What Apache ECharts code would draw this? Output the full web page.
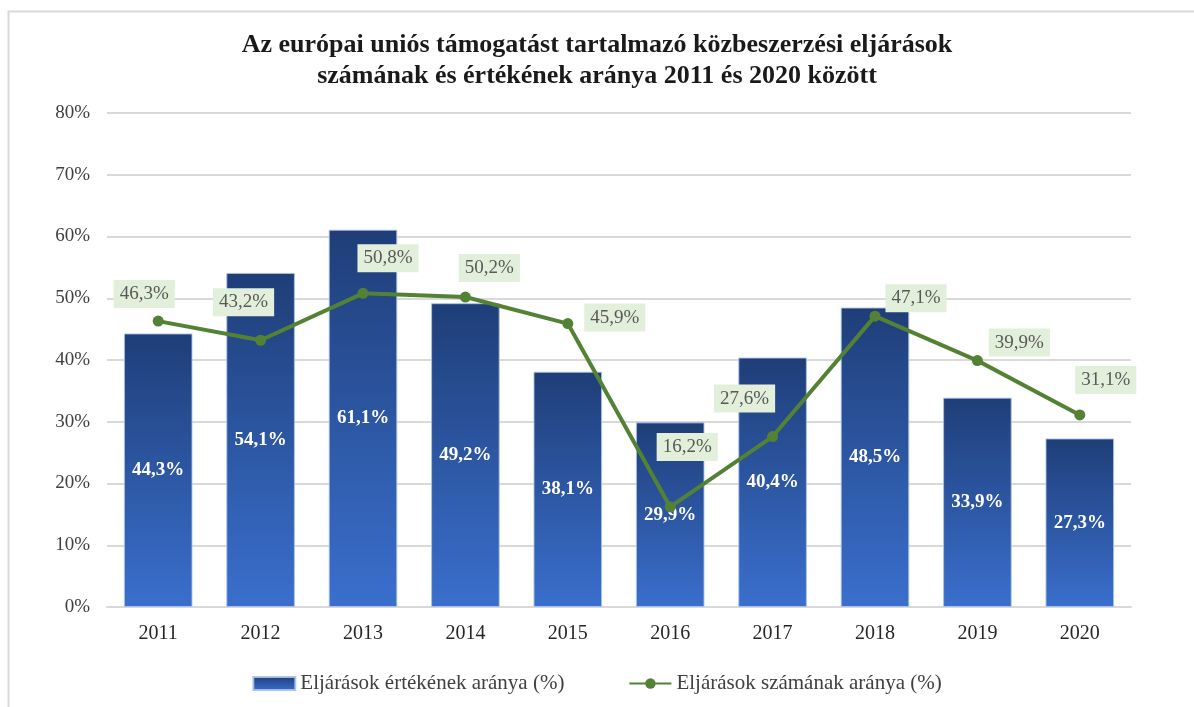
<!DOCTYPE html>
<html>
<head>
<meta charset="utf-8">
<script src="https://cdn.jsdelivr.net/npm/echarts@6/dist/echarts.min.js"></script>
<style>
  html, body { margin: 0; padding: 0; background: #fff; }
  #chart { width: 1194px; height: 707px; }
</style>
</head>
<body>
<div id="chart"></div>
<script>
const years = ["2011", "2012", "2013", "2014", "2015", "2016", "2017", "2018", "2019", "2020"];
const ertekArany = [44.3, 54.1, 61.1, 49.2, 38.1, 29.9, 40.4, 48.5, 33.9, 27.3];
const szamArany = [46.3, 43.2, 50.8, 50.2, 45.9, 16.2, 27.6, 47.1, 39.9, 31.1];
const yTicks = [0, 10, 20, 30, 40, 50, 60, 70, 80];

// label nudges for the line labels (Excel had them placed by hand)
const labelOffsets = [
  [-14, -27], [-17, -38], [25, -35], [24, -29], [47, -6],
  [17, -60], [-28, -38], [41, -18], [42, -18], [26, -35]
];

const serif = "'Liberation Serif', 'DejaVu Serif', serif";
const fmt = v => v.toFixed(1).replace(".", ",") + "%";

const chart = echarts.init(document.getElementById("chart"));

const option = {
  animation: false,
  textStyle: { fontFamily: serif },
  title: {
    text: "Az európai uniós támogatást tartalmazó közbeszerzési eljárások\nszámának és értékének aránya 2011 és 2020 között",
    left: "center",
    top: 25,
    textStyle: {
      fontFamily: serif,
      fontWeight: "bold",
      fontSize: 26,
      lineHeight: 31,
      color: "#1a1a1a",
    },
  },
  graphic: [
    {
      type: "rect",
      left: 6,
      top: 9,
      shape: { width: 1300, height: 800 },
      style: { fill: "none", stroke: "#d9d9d9", lineWidth: 2 },
      silent: true,
    },
  ],
  grid: { left: 107, right: 63, top: 113, bottom: 100 },
  legend: {
    bottom: 8,
    left: "center",
    itemWidth: 42,
    itemHeight: 13,
    itemGap: 64,
    textStyle: { fontFamily: serif, fontSize: 21, color: "#404040" },
    data: [
      { name: "Eljárások értékének aránya (%)", icon: "rect" },
      { name: "Eljárások számának aránya (%)" },
    ],
  },
  xAxis: {
    type: "category",
    data: years,
    axisLine: { lineStyle: { color: "#d9d9d9", width: 2 } },
    axisTick: { show: false },
    axisLabel: { fontFamily: serif, fontSize: 20, color: "#262626", margin: 17 },
  },
  yAxis: {
    type: "value",
    min: yTicks[0],
    max: yTicks[yTicks.length - 1],
    interval: 10,
    axisLine: { show: false },
    axisTick: { show: false },
    axisLabel: { fontFamily: serif, fontSize: 19, color: "#404040", margin: 17, formatter: "{value}%" },
    splitLine: { lineStyle: { color: "#d9d9d9", width: 2 } },
  },
  series: [
    {
      name: "Eljárások értékének aránya (%)",
      type: "bar",
      data: ertekArany,
      barWidth: "67%",
      itemStyle: {
        color: new echarts.graphic.LinearGradient(0, 0, 0, 1, [
          { offset: 0, color: "#1f3e78" },
          { offset: 1, color: "#3a6fcd" },
        ]),
        borderColor: "rgba(170,195,235,0.9)",
        borderWidth: 1,
      },
      label: {
        show: true,
        position: "inside",
        formatter: p => fmt(p.value),
        color: "#fff",
        fontFamily: serif,
        fontWeight: "bold",
        fontSize: 19,
      },
    },
    {
      name: "Eljárások számának aránya (%)",
      type: "line",
      data: szamArany.map((v, i) => ({
        value: v,
        label: { offset: labelOffsets[i] },
      })),
      z: 5,
      symbol: "circle",
      symbolSize: 11,
      lineStyle: { color: "#548235", width: 4 },
      itemStyle: { color: "#548235" },
      label: {
        show: true,
        position: "inside",
        formatter: p => fmt(p.value),
        color: "#595959",
        fontFamily: serif,
        fontSize: 19,
        backgroundColor: "#e2efda",
        padding: [5, 6, 4, 6],
      },
    },
  ],
};

chart.setOption(option);
</script>
</body>
</html>
